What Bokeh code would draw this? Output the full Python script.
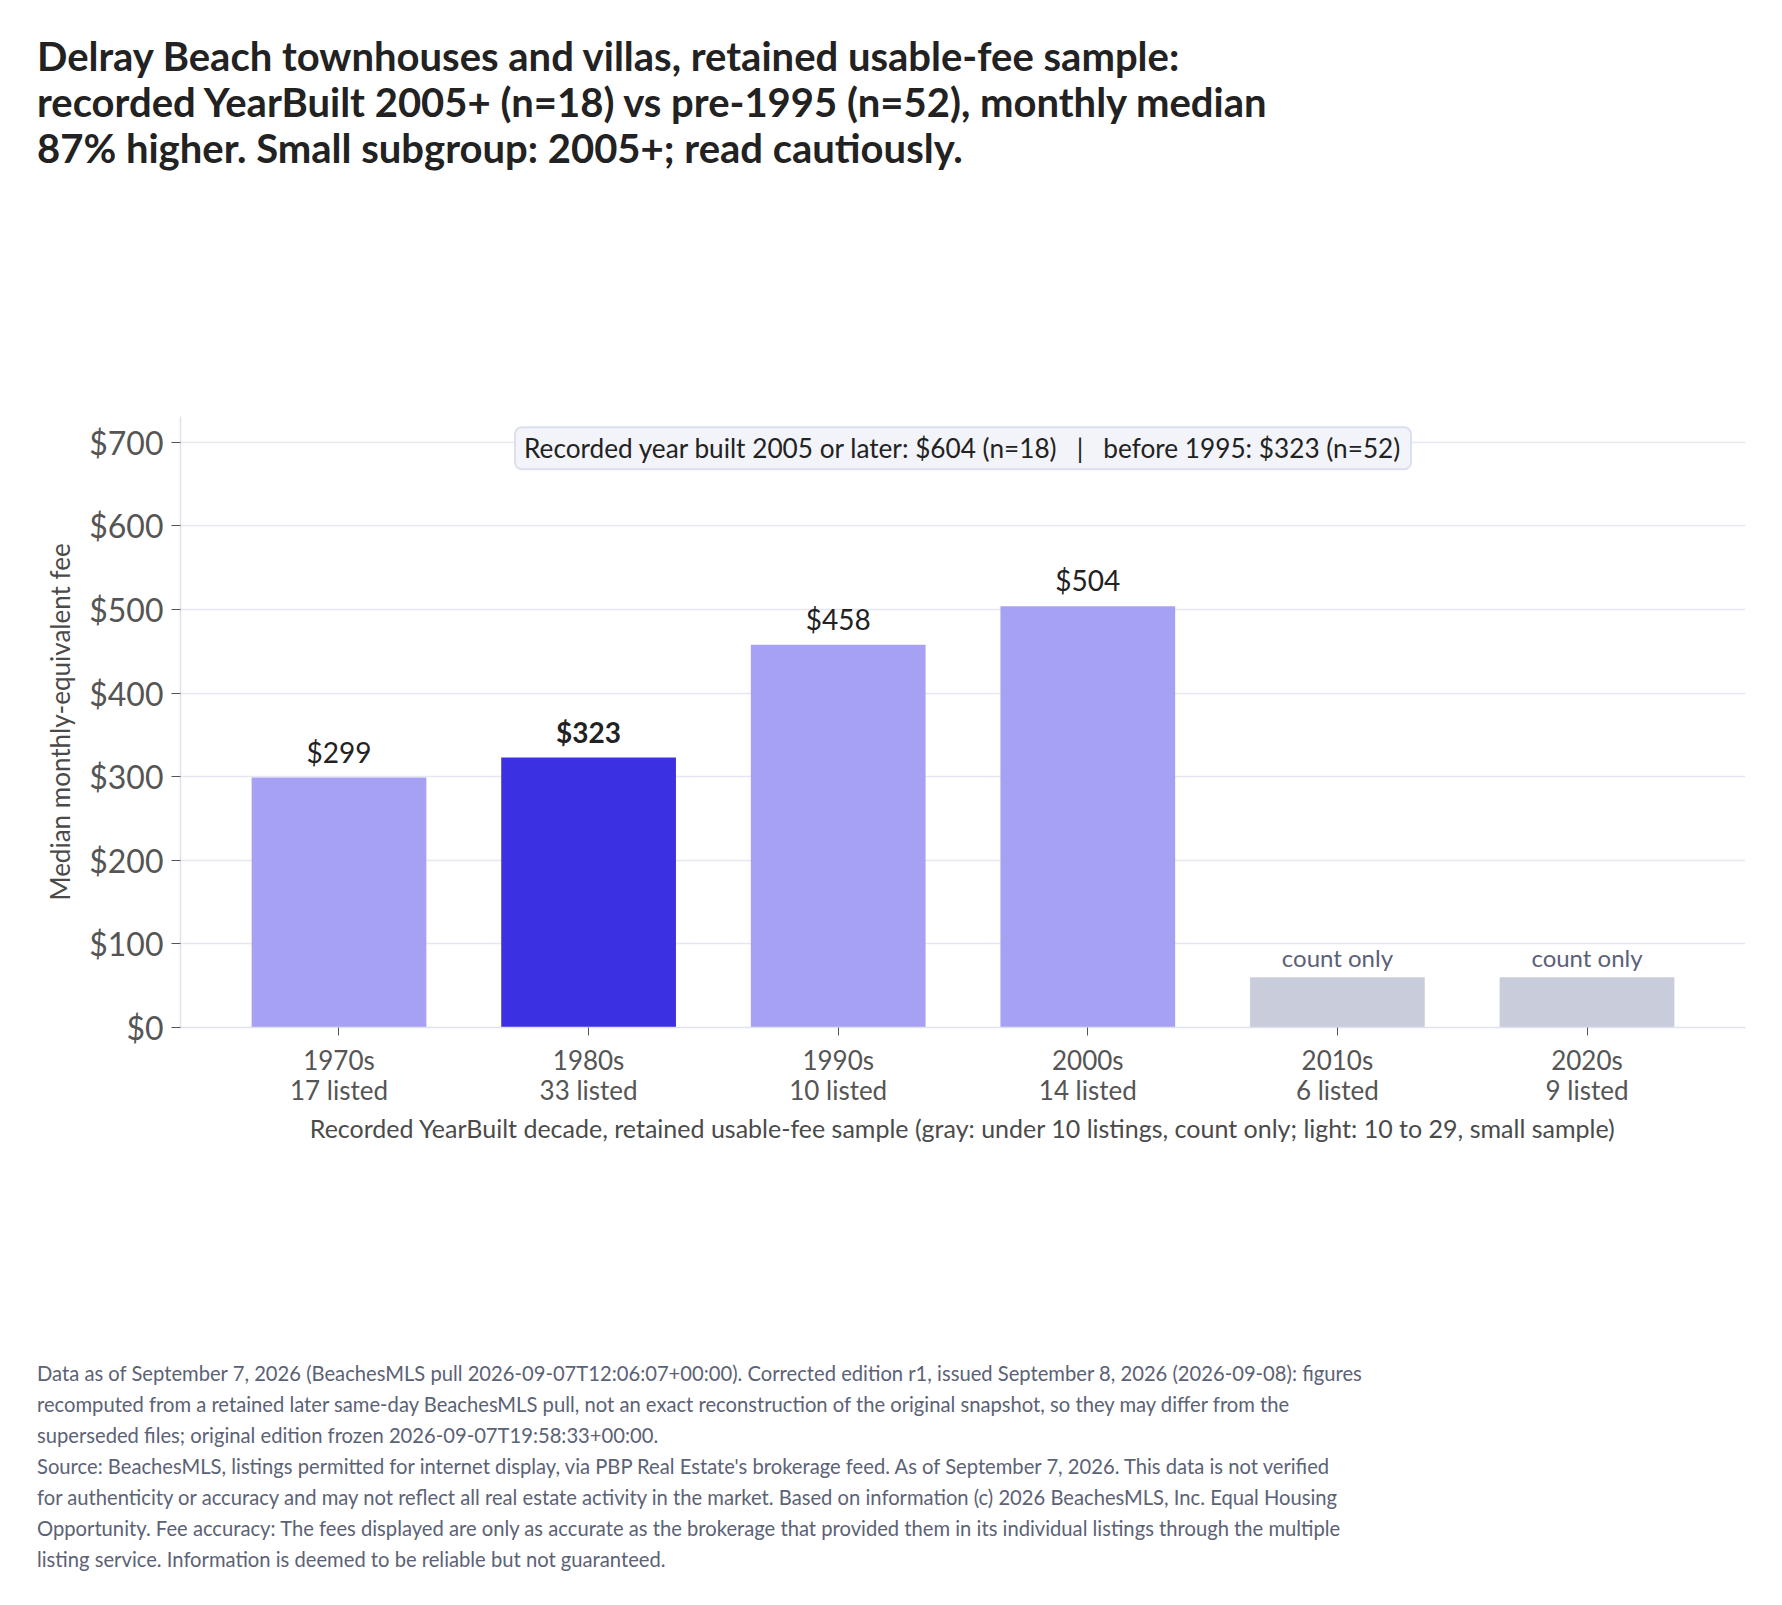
from bokeh.plotting import figure
from bokeh.models import (ColumnDataSource, Label, Div, NumeralTickFormatter,
                          FixedTicker, FactorRange, Range1d)
from bokeh.layouts import column
from bokeh.embed import file_html
from bokeh.resources import INLINE
from bokeh.core.properties import value

# ---------------- data ----------------
decades = ["1970s", "1980s", "1990s", "2000s", "2010s", "2020s"]
listed = [17, 33, 10, 14, 6, 9]
median_fee = [299, 323, 458, 504, None, None]
count_only_height = 60
tier = ["light", "highlight", "light", "light", "gray", "gray"]
y_ticks = [0, 100, 200, 300, 400, 500, 600, 700]

title_lines = [
    "Delray Beach townhouses and villas, retained usable-fee sample:",
    "recorded YearBuilt 2005+ (n=18) vs pre-1995 (n=52), monthly median",
    "87% higher. Small subgroup: 2005+; read cautiously.",
]
NB = "\u00a0"
callout_text = ("Recorded year built 2005 or later: $604 (n=18)" + NB * 3 + "|" + NB * 3
                + "before 1995: $323 (n=52)")
x_label = ("Recorded YearBuilt decade, retained usable-fee sample "
           "(gray: under 10 listings, count only; light: 10 to 29, small sample)")
y_label = "Median monthly-equivalent fee"
footer_lines = [
    "Data as of September 7, 2026 (BeachesMLS pull 2026-09-07T12:06:07+00:00). Corrected edition r1, issued September 8, 2026 (2026-09-08): figures",
    "recomputed from a retained later same-day BeachesMLS pull, not an exact reconstruction of the original snapshot, so they may differ from the",
    "superseded files; original edition frozen 2026-09-07T19:58:33+00:00.",
    "Source: BeachesMLS, listings permitted for internet display, via PBP Real Estate's brokerage feed. As of September 7, 2026. This data is not verified",
    "for authenticity or accuracy and may not reflect all real estate activity in the market. Based on information (c) 2026 BeachesMLS, Inc. Equal Housing",
    "Opportunity. Fee accuracy: The fees displayed are only as accurate as the brokerage that provided them in its individual listings through the multiple",
    "listing service. Information is deemed to be reliable but not guaranteed.",
]

# ---------------- styling ----------------
FONT = "Lato"
tier_color = {"light": "#a7a1f3", "highlight": "#3b30e2", "gray": "#c9ccdb"}

factors = [f"{d}\n{n} listed" for d, n in zip(decades, listed)]
heights = [m if m is not None else count_only_height for m in median_fee]
colors = [tier_color[t] for t in tier]

src = ColumnDataSource(dict(x=factors, top=heights, color=colors))

val_idx = [i for i, m in enumerate(median_fee) if m is not None]
val_src = ColumnDataSource(dict(
    x=[factors[i] for i in val_idx],
    y=[median_fee[i] for i in val_idx],
    text=[f"${median_fee[i]}" for i in val_idx],
    style=["bold" if tier[i] == "highlight" else "normal" for i in val_idx],
))
cnt_idx = [i for i, m in enumerate(median_fee) if m is None]
cnt_src = ColumnDataSource(dict(
    x=[factors[i] for i in cnt_idx],
    y=[count_only_height for i in cnt_idx],
    text=["count only" for i in cnt_idx],
))

p = figure(
    width=1766, height=1140,
    x_range=FactorRange(*factors, range_padding=0.135, range_padding_units="absolute"),
    y_range=Range1d(0, 731),
    output_backend="svg", toolbar_location=None, title=None,
    min_border_left=180, min_border_right=21,
    min_border_top=216, min_border_bottom=313,
)
p.outline_line_color = None
p.background_fill_color = "white"
p.border_fill_color = "white"

p.vbar(x="x", top="top", width=0.7, source=src, fill_color="color", line_color=None)

p.text(x="x", y="y", text="text", source=val_src, text_align="center",
       text_baseline="bottom", y_offset=-9, text_font=value(FONT),
       text_font_size="28px", text_color="#222222", text_font_style="style")
p.text(x="x", y="y", text="text", source=cnt_src, text_align="center",
       text_baseline="bottom", y_offset=-5, text_font=value(FONT),
       text_font_size="24px", text_color="#5a6178")

callout = Label(x=3.0, y=693, text=callout_text, text_align="center",
                text_baseline="middle", text_font=FONT, text_font_size="26.2px",
                text_color="#222222", background_fill_color="#f3f4f9",
                border_line_color="#dcdfee", border_line_width=2,
                padding=(9, 5), border_radius=7)
p.add_layout(callout)

# grid
p.xgrid.visible = False
p.ygrid.grid_line_color = "#e6e7f2"
p.ygrid.grid_line_width = 1.5

# y axis
p.yaxis.ticker = FixedTicker(ticks=y_ticks)
p.yaxis.formatter = NumeralTickFormatter(format="$0,0")
p.yaxis.axis_label = y_label
p.yaxis.axis_label_text_font = FONT
p.yaxis.axis_label_text_font_size = "26px"
p.yaxis.axis_label_text_font_style = "normal"
p.yaxis.axis_label_text_color = "#4a4a4a"
p.yaxis.axis_label_standoff = 10
p.yaxis.major_label_text_font = FONT
p.yaxis.major_label_text_font_size = "32px"
p.yaxis.major_label_text_color = "#555555"
p.yaxis.major_label_standoff = 8
p.yaxis.major_tick_out = 9
p.yaxis.major_tick_in = 0
p.yaxis.minor_tick_out = 0
p.yaxis.minor_tick_in = 0
p.yaxis.major_tick_line_color = "#555555"
p.yaxis.axis_line_color = "#e0e1ee"
p.yaxis.axis_line_width = 1.5

# x axis
p.xaxis.axis_label = x_label
p.xaxis.axis_label_text_font = FONT
p.xaxis.axis_label_text_font_size = "25px"
p.xaxis.axis_label_text_font_style = "normal"
p.xaxis.axis_label_text_color = "#4a4a4a"
p.xaxis.axis_label_standoff = 4
p.xaxis.major_label_text_font = FONT
p.xaxis.major_label_text_font_size = "26px"
p.xaxis.major_label_text_line_height = 0.96
p.xaxis.major_label_text_color = "#555555"
p.xaxis.major_label_standoff = 8
p.xaxis.major_tick_out = 8
p.xaxis.major_tick_in = 0
p.xaxis.major_tick_line_color = "#555555"
p.xaxis.axis_line_color = "#e0e1ee"
p.xaxis.axis_line_width = 1.5

title_div = Div(
    text=("<div style=\"padding:33px 0 0 37px; font-family:Lato; font-weight:700; "
          "font-size:40px; line-height:46px; color:#222222; white-space:nowrap;\">"
          + "<br>".join(title_lines) + "</div>"),
    width=1766, height=200, margin=0,
)
footer_div = Div(
    text=("<div style=\"padding:18px 0 0 37px; font-family:Lato; font-weight:400; "
          "font-size:20.2px; line-height:31px; color:#5b6275; white-space:nowrap;\">"
          + "<br>".join(footer_lines) + "</div>"),
    width=1766, height=249, margin=0,
)
p.margin = 0

layout = column(title_div, p, footer_div, margin=0, spacing=0)

with open("out.html", "w") as f:
    f.write(file_html(layout, INLINE))
